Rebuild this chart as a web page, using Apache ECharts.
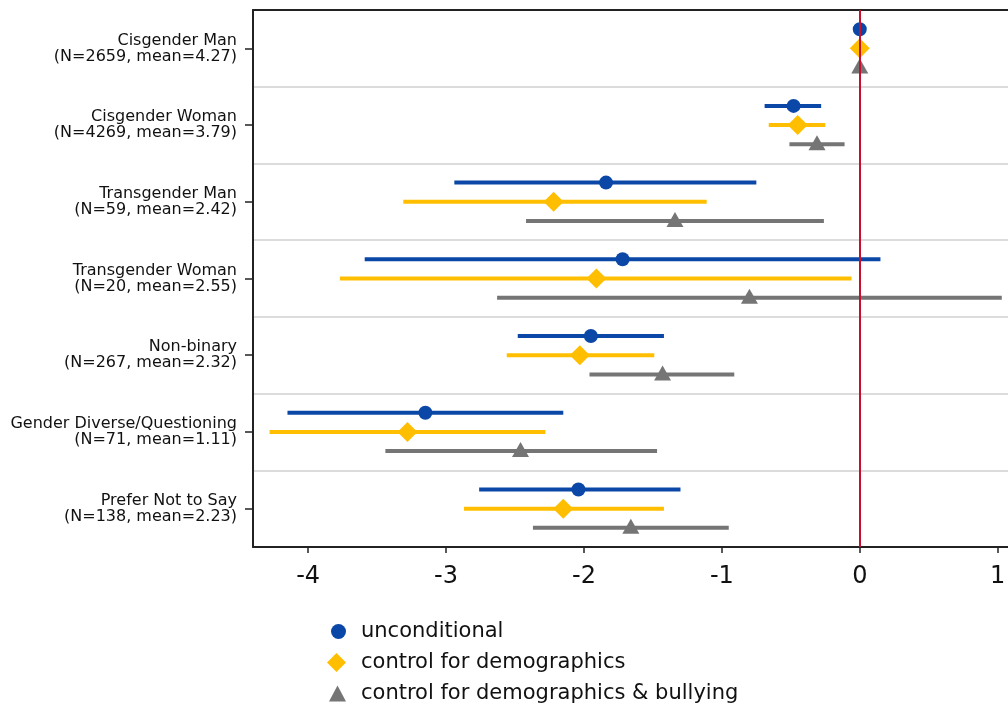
<!DOCTYPE html>
<html>
<head>
<meta charset="utf-8">
<script src="https://cdn.jsdelivr.net/npm/echarts@6/dist/echarts.min.js"></script>
<style>
  html, body { margin: 0; padding: 0; background: #fff; }
  #chart { width: 1008px; height: 707px; }
</style>
</head>
<body>
<div id="chart"></div>
<script>
// Groups on the vertical axis (top to bottom)
const categories = [
  'Cisgender Man\n(N=2659, mean=4.27)',
  'Cisgender Woman\n(N=4269, mean=3.79)',
  'Transgender Man\n(N=59, mean=2.42)',
  'Transgender Woman\n(N=20, mean=2.55)',
  'Non-binary\n(N=267, mean=2.32)',
  'Gender Diverse/Questioning\n(N=71, mean=1.11)',
  'Prefer Not to Say\n(N=138, mean=2.23)'
];

// Estimates and confidence bounds, relative to Cisgender Man
const uncondEst  = [0, -0.48, -1.84, -1.72, -1.95, -3.15, -2.04];
const uncondLow  = [0, -0.69, -2.94, -3.59, -2.48, -4.15, -2.76];
const uncondHigh = [0, -0.28, -0.75,  0.15, -1.42, -2.15, -1.30];

const demoEst  = [0, -0.45, -2.22, -1.91, -2.03, -3.28, -2.15];
const demoLow  = [0, -0.66, -3.31, -3.77, -2.56, -4.28, -2.87];
const demoHigh = [0, -0.25, -1.11, -0.06, -1.49, -2.28, -1.42];

const bullyEst  = [0, -0.31, -1.34, -0.80, -1.43, -2.46, -1.66];
const bullyLow  = [0, -0.51, -2.42, -2.63, -1.96, -3.44, -2.37];
const bullyHigh = [0, -0.11, -0.26,  1.03, -0.91, -1.47, -0.95];

const xTicks = [-4, -3, -2, -1, 0, 1];

const seriesNames = [
  'unconditional',
  'control for demographics',
  'control for demographics & bullying'
];
const legendIcons = ['circle', 'diamond', 'triangle'];
const legendIconSizes = [[15, 15], [19, 19], [17, 16]];

const FONT = 'DejaVu Sans';
const X_MIN = -4.4;
const X_MAX = 1.22;

function rows(est, low, high) {
  return est.map((v, i) => [i, v, low[i], high[i]]);
}

// Draws an interval bar plus a marker, shifted within the category band
function makeRender(shape, bandShift) {
  return function (params, api) {
    const idx = api.value(0);
    const est = api.value(1);
    const lo = api.value(2);
    const hi = api.value(3);
    const band = api.size([0, 1])[1];
    const p = api.coord([est, idx]);
    const x = p[0];
    const y = p[1] + band * bandShift;
    const color = api.visual('color');
    const children = [];
    if (hi > lo) {
      const a = api.coord([lo, idx]);
      const b = api.coord([hi, idx]);
      children.push({
        type: 'line',
        shape: { x1: a[0], y1: y, x2: b[0], y2: y },
        style: { stroke: color, lineWidth: 4, lineCap: 'butt' }
      });
    }
    if (shape === 'circle') {
      children.push({ type: 'circle', shape: { cx: x, cy: y, r: 7 }, style: { fill: color } });
    } else if (shape === 'diamond') {
      children.push({
        type: 'polygon',
        shape: { points: [[x, y - 10], [x + 10, y], [x, y + 10], [x - 10, y]] },
        style: { fill: color }
      });
    } else {
      children.push({
        type: 'polygon',
        shape: { points: [[x, y - 9], [x + 8.5, y + 6], [x - 8.5, y + 6]] },
        style: { fill: color }
      });
    }
    return { type: 'group', children: children };
  };
}

// One legend block per entry, stacked vertically, text aligned at the same x
const legends = seriesNames.map((name, i) => {
  const w = legendIconSizes[i][0];
  const h = legendIconSizes[i][1];
  return {
    orient: 'vertical',
    left: 346 - w,
    top: 621 + i * 31,
    padding: 0,
    itemWidth: w, itemHeight: h,
    textStyle: { fontFamily: FONT, fontSize: 21, color: '#111', padding: [0, 0, 0, 10] },
    data: [{ name: name, icon: legendIcons[i] }]
  };
});

const chart = echarts.init(document.getElementById('chart'), null, { renderer: 'canvas' });

chart.setOption({
  animation: false,
  backgroundColor: '#fff',
  textStyle: { fontFamily: FONT },
  grid: {
    left: 253, right: -20, top: 10, bottom: 160,
    outerBoundsMode: 'none',
    containLabel: false
  },
  legend: legends,
  xAxis: [
    {
      type: 'value',
      min: X_MIN, max: X_MAX,
      axisLine: { show: true, onZero: false, lineStyle: { color: '#222', width: 2 } },
      axisTick: { show: true, length: 6, customValues: xTicks, lineStyle: { color: '#222', width: 1.5 } },
      axisLabel: {
        customValues: xTicks, fontSize: 24, color: '#111', margin: 18, fontFamily: FONT,
        formatter: v => String(v)
      },
      splitLine: { show: false }
    },
    {
      // top frame line
      type: 'value',
      position: 'top',
      min: X_MIN, max: X_MAX,
      axisLine: { show: true, onZero: false, lineStyle: { color: '#222', width: 2 } },
      axisTick: { show: false },
      axisLabel: { show: false },
      splitLine: { show: false }
    }
  ],
  yAxis: {
    type: 'category',
    inverse: true,
    data: categories,
    axisLine: { show: true, onZero: false, lineStyle: { color: '#222', width: 2 } },
    axisTick: { show: true, alignWithLabel: true, length: 8, lineStyle: { color: '#222', width: 1.5 } },
    axisLabel: { fontSize: 16, lineHeight: 16, color: '#111', margin: 16, align: 'right', fontFamily: FONT, padding: [0, 0, 6, 0] },
    splitLine: { show: true, lineStyle: { color: '#dcdcdc', width: 2 } }
  },
  series: [
    {
      type: 'line',
      data: [],
      z: 1,
      silent: true,
      markLine: {
        silent: true,
        symbol: 'none',
        label: { show: false },
        lineStyle: { color: '#c8102e', width: 2, type: 'solid' },
        data: [{ xAxis: 0 }]
      }
    },
    {
      name: seriesNames[0], type: 'custom', z: 3,
      itemStyle: { color: '#0b47a6' },
      renderItem: makeRender('circle', -0.25),
      encode: { x: [1, 2, 3], y: 0 },
      data: rows(uncondEst, uncondLow, uncondHigh)
    },
    {
      name: seriesNames[1], type: 'custom', z: 3,
      itemStyle: { color: '#ffbf00' },
      renderItem: makeRender('diamond', 0),
      encode: { x: [1, 2, 3], y: 0 },
      data: rows(demoEst, demoLow, demoHigh)
    },
    {
      name: seriesNames[2], type: 'custom', z: 3,
      itemStyle: { color: '#757575' },
      renderItem: makeRender('triangle', 0.25),
      encode: { x: [1, 2, 3], y: 0 },
      data: rows(bullyEst, bullyLow, bullyHigh)
    }
  ]
});
</script>
</body>
</html>
